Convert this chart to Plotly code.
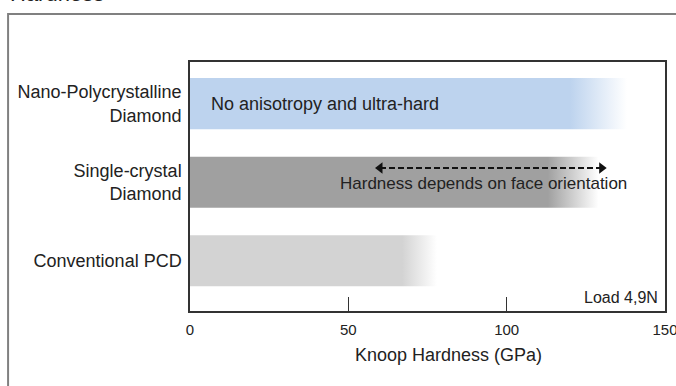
import plotly.graph_objects as go

# Materials from bottom to top of the chart
materials = ["Conventional PCD", "Single-crystal<br>Diamond", "Nano-Polycrystalline<br>Diamond"]
solid_to = [67, 113, 120]      # GPa: bar is solid up to here
fade_to = [78, 129, 138]       # GPa: bar has faded out by here
bar_colors = ["#d3d3d3", "#a0a0a0", "#bdd3ee"]
single_crystal_range = [60, 130]   # GPa, depends on face orientation
x_ticks = [0, 50, 100, 150]

TEXT = "#222222"
FONT = "Liberation Sans, Arial, sans-serif"
half = 0.325

fig = go.Figure()

for i, (s, e, c) in enumerate(zip(solid_to, fade_to, bar_colors)):
    fig.add_trace(go.Scatter(
        x=[0, e, e, 0, 0],
        y=[i - half, i - half, i + half, i + half, i - half],
        mode="lines", fill="toself", line=dict(width=0),
        fillgradient=dict(type="horizontal", start=s, stop=e,
                          colorscale=[[0, c], [1, "#ffffff"]]),
        hoverinfo="skip", showlegend=False,
    ))

# Dashed double-headed arrow over the single-crystal bar
arrow_y = 1.18
fig.add_trace(go.Scatter(
    x=single_crystal_range, y=[arrow_y, arrow_y], mode="lines",
    line=dict(color="#111111", width=2, dash="6px,3px"),
    hoverinfo="skip", showlegend=False,
))
fig.add_trace(go.Scatter(
    x=single_crystal_range, y=[arrow_y, arrow_y], mode="markers",
    marker=dict(symbol=["triangle-left", "triangle-right"], size=10, color="#111111"),
    hoverinfo="skip", showlegend=False,
))

fig.add_annotation(x=6, y=2, xref="x", yref="y", text="No anisotropy and ultra-hard",
                   showarrow=False, xanchor="left", yanchor="middle",
                   font=dict(size=18, color=TEXT, family=FONT))
fig.add_annotation(x=92.8, y=0.98, xref="x", yref="y", text="Hardness depends on face orientation",
                   showarrow=False, xanchor="center", yanchor="middle",
                   font=dict(size=17, color=TEXT, family=FONT))
fig.add_annotation(x=0.99, y=0.056, xref="paper", yref="paper", text="Load 4,9N",
                   showarrow=False, xanchor="right", yanchor="middle",
                   font=dict(size=16, color=TEXT, family=FONT))
fig.add_annotation(x=0.545, y=-0.177, xref="paper", yref="paper", text="Knoop Hardness (GPa)",
                   showarrow=False, xanchor="center", yanchor="middle",
                   font=dict(size=18, color=TEXT, family=FONT))
fig.add_annotation(x=-0.383, y=1.217, xref="paper", yref="paper", text="Hardness",
                   showarrow=False, xanchor="left", yanchor="bottom",
                   font=dict(size=22, color=TEXT, family=FONT))

# Outer panel frame
fig.add_shape(type="rect", xref="paper", yref="paper",
              x0=-0.383, y0=-1.0, x1=2.0, y1=1.193,
              line=dict(color="#808080", width=2), fillcolor="rgba(0,0,0,0)")

fig.update_xaxes(
    range=[0, 150], tickvals=x_ticks, ticks="inside", ticklen=14, tickwidth=1,
    tickcolor="#333333", showline=True, mirror=True, linecolor="#333333", linewidth=1.5,
    showgrid=False, zeroline=False, ticklabelstandoff=4, ticklabeloverflow="allow",
    tickfont=dict(size=15, color=TEXT, family=FONT), automargin=False,
)
fig.update_yaxes(
    range=[-0.64, 2.53], tickvals=[0, 1, 2], ticktext=materials, ticks="",
    showline=True, mirror=True, linecolor="#333333", linewidth=1.5,
    showgrid=False, zeroline=False, ticklabelstandoff=3,
    tickfont=dict(size=18, color=TEXT, family=FONT), automargin=False,
)
fig.update_layout(
    width=676, height=386,
    margin=dict(l=190, r=11, t=62, b=75),
    paper_bgcolor="white", plot_bgcolor="white",
    font=dict(family=FONT, color=TEXT),
)

fig.write_html("out.html")
